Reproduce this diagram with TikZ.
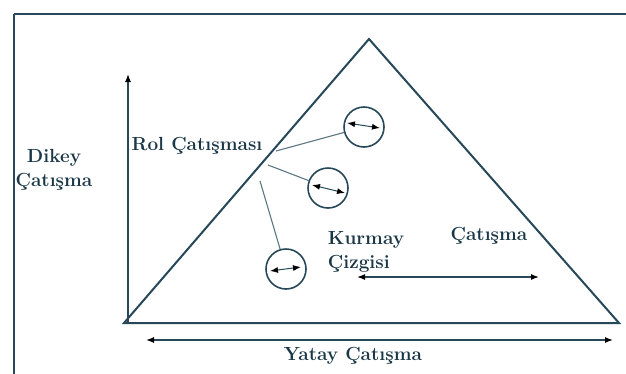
\documentclass[tikz,border=0pt]{standalone}
\usetikzlibrary{arrows.meta}
\definecolor{ln}{RGB}{38,72,88}
\definecolor{tx}{RGB}{25,55,70}
\begin{document}
\begin{tikzpicture}[x=1pt,y=-1pt,
  lbl/.style={font=\rmfamily\bfseries\fontsize{19}{24}\selectfont, text=tx, inner sep=0pt, align=center},
  ring/.style={circle, draw=ln, line width=1.6pt, minimum size=40pt, inner sep=0pt},
  hd/.tip={Latex[length=8pt,width=6pt,fill=black,color=black]},
  dbl/.style={{hd}-{hd}, draw=ln, line width=1.3pt},
  lead/.style={draw=ln!75, line width=1.1pt}]
\useasboundingbox (0,0) rectangle (626,373);
\clip (0,0) rectangle (626,373);
\draw[ln, line width=2pt] (14,14) -- (14,400) (14,14) -- (640,14);
% triangle
\coordinate (A) at (369,39);
\coordinate (B) at (124,323);
\coordinate (C) at (619,323);
\draw[ln, line width=2pt, line join=miter] (A) -- (B) -- (C) -- cycle;
% vertical arrow
\coordinate (vb) at (128,323);
\coordinate (vt) at (128,74);
\draw[draw=ln, line width=1.3pt, -{hd}] (vb) -- (vt);
% horizontal arrow
\coordinate (hl) at (146,340);
\coordinate (hr) at (613,340);
\draw[dbl] (hl) -- (hr);
% inner arrow
\coordinate (il) at (357,277);
\coordinate (ir) at (539,277);
\draw[dbl] (il) -- (ir);
% labels
\node[lbl] (yatay) at (353,356) {Yatay Çatışma};
\node[lbl] (dikey) at (54,170) {Dikey\\Çatışma};
\node[lbl] (rol) at (197,146) {Rol Çatışması};
\node[lbl, align=left] (kurmay) at (366,252) {Kurmay\\Çizgisi};
\node[lbl] (cat) at (489,236) {Çatışma};
% circles
\node[ring] (c1) at (364,127) {};
\node[ring] (c2) at (328,188) {};
\node[ring] (c3) at (286,269) {};
\draw[dbl, line width=1pt] ([shift={(-17,-4)}]c1.center) -- ([shift={(16,1)}]c1.center);
\draw[dbl, line width=1pt] ([shift={(-16,-3)}]c2.center) -- ([shift={(17,5)}]c2.center);
\draw[dbl, line width=1pt] ([shift={(-16,2)}]c3.center) -- ([shift={(15,-2)}]c3.center);
% leaders
\coordinate (p1) at (276,151);
\coordinate (p2) at (268,165);
\coordinate (p3) at (260,181);
\draw[lead] (p1) -- (c1);
\draw[lead] (p2) -- (c2);
\draw[lead] (p3) -- (c3);
\end{tikzpicture}
\end{document}
